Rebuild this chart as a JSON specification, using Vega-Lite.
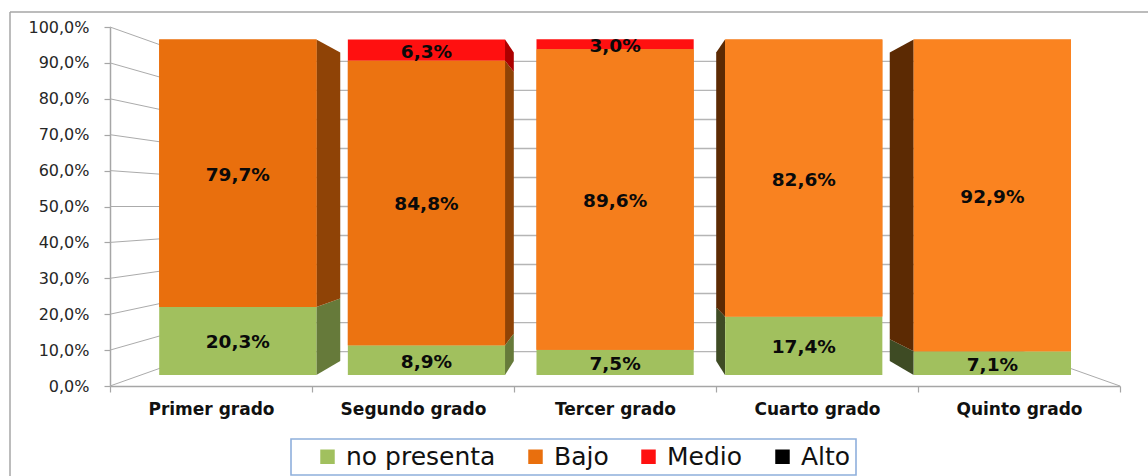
{
"$schema":"https://vega.github.io/schema/vega-lite/v6.json",
"width":1148,"height":476,"padding":0,"autosize":{"type":"none"},"background":"#ffffff",
"config":{"view":{"stroke":null},"font":"DejaVu Sans","legend":{"strokeWidth":1.6}},
"datasets":{
 "niveles":[
  {"grado":"Primer grado","nivel":"no presenta","valor":20.3},
  {"grado":"Primer grado","nivel":"Bajo","valor":79.7},
  {"grado":"Segundo grado","nivel":"no presenta","valor":8.9},
  {"grado":"Segundo grado","nivel":"Bajo","valor":84.8},
  {"grado":"Segundo grado","nivel":"Medio","valor":6.3},
  {"grado":"Tercer grado","nivel":"no presenta","valor":7.5},
  {"grado":"Tercer grado","nivel":"Bajo","valor":89.6},
  {"grado":"Tercer grado","nivel":"Medio","valor":3.0},
  {"grado":"Cuarto grado","nivel":"no presenta","valor":17.4},
  {"grado":"Cuarto grado","nivel":"Bajo","valor":82.6},
  {"grado":"Quinto grado","nivel":"no presenta","valor":7.1},
  {"grado":"Quinto grado","nivel":"Bajo","valor":92.9}
 ],
 "marcas":[{"t":0},{"t":10},{"t":20},{"t":30},{"t":40},{"t":50},{"t":60},{"t":70},{"t":80},{"t":90},{"t":100}]
},
"resolve":{"scale":{"x":"independent","y":"independent","color":"independent","opacity":"independent"},"axis":{"x":"independent","y":"independent"}},
"layer":[
 {
  "data":{"values":[{"v":0}]},
  "mark":{"type":"point","opacity":0},
  "encoding":{
   "x":{"field":"v","type":"quantitative","scale":{"domain":[0,1],"range":[9.5,1148]},"axis":{"orient":"top","offset":-11.5,"title":null,"ticks":false,"labels":false,"grid":false,"domainColor":"#A6A6A6","domainWidth":1.5}},
   "y":{"field":"v","type":"quantitative","scale":{"domain":[0,1],"range":[476,11.5]},"axis":{"orient":"left","offset":-9.5,"title":null,"ticks":false,"labels":false,"grid":false,"domainColor":"#A6A6A6","domainWidth":1.5}}
  }
 },
 {
  "data":{"name":"marcas"},
  "transform":[{"calculate":"0","as":"a"},{"calculate":"1","as":"b"},{"fold":["a","b"],"as":["k","d"]},
   {"calculate":"-505*(1-0.192*datum.d)","as":"px"},{"calculate":"50+(datum.t-50)*(1-0.192*datum.d)","as":"py"}],
  "mark":{"type":"line","color":"#ABABAB","strokeWidth":1},
  "encoding":{
   "x":{"field":"px","type":"quantitative","scale":{"domain":[-505,505],"range":[110,1120]},"axis":null},
   "y":{"field":"py","type":"quantitative","scale":{"domain":[0,100],"range":[386,27]},"axis":null},
   "detail":{"field":"t"}
  }
 },
 {
  "data":{"name":"marcas"},
  "transform":[{"filter":"datum.t==0"},{"calculate":"0","as":"a"},{"calculate":"1","as":"b"},{"fold":["a","b"],"as":["k","d"]},
   {"calculate":"505*(1-0.192*datum.d)","as":"px"},{"calculate":"50+(datum.t-50)*(1-0.192*datum.d)","as":"py"}],
  "mark":{"type":"line","color":"#ABABAB","strokeWidth":1},
  "encoding":{
   "x":{"field":"px","type":"quantitative","scale":{"domain":[-505,505],"range":[110,1120]},"axis":null},
   "y":{"field":"py","type":"quantitative","scale":{"domain":[0,100],"range":[386,27]},"axis":null}
  }
 },
 {
  "data":{"name":"marcas"},
  "transform":[{"calculate":"50+(datum.t-50)*0.808","as":"py"},{"calculate":"-408","as":"x1"},{"calculate":"408","as":"x2"}],
  "mark":{"type":"rule","color":"#B5B5B5","strokeWidth":1.3},
  "encoding":{
   "x":{"field":"x1","type":"quantitative","scale":{"domain":[-505,505],"range":[110,1120]},"axis":null},
   "x2":{"field":"x2"},
   "y":{"field":"py","type":"quantitative","scale":{"domain":[0,100],"range":[386,27]},"axis":null}
  }
 },
 {
  "data":{"name":"marcas"},
  "mark":{"type":"point","opacity":0},
  "encoding":{
   "y":{"field":"t","type":"quantitative","scale":{"domain":[0,100],"range":[386,27]},
    "axis":{"orient":"left","offset":-110,"title":null,"grid":false,"values":[0,10,20,30,40,50,60,70,80,90,100],
     "labelExpr":"replace(format(datum.value,'.1f'),'.',',')+'%'","labelFont":"DejaVu Sans","labelFontSize":16,"labelColor":"#262626","labelPadding":15,
     "tickColor":"#A6A6A6","tickSize":6,"tickWidth":1.2,"domainColor":"#A6A6A6","domainWidth":1.5}}
  }
 },
 {
  "data":{"name":"niveles"},
  "mark":{"type":"point","opacity":0},
  "encoding":{
   "x":{"field":"grado","type":"nominal","sort":null,"scale":{"type":"band","range":[110,1120],"paddingInner":0,"paddingOuter":0},
    "axis":{"orient":"bottom","offset":-90,"title":null,"grid":false,"labelAngle":0,"tickBand":"extent",
     "labelFont":"DejaVu Sans","labelFontWeight":"bold","labelFontSize":17,"labelColor":"#111111","labelPadding":9,"labelBaseline":"top",
     "tickColor":"#A6A6A6","tickSize":6,"tickWidth":1.2,"domainColor":"#A6A6A6","domainWidth":1.5}}
  }
 },
 {
  "data":{"name":"niveles"},
  "transform":[
   {"calculate":"indexof(['no presenta','Bajo','Medio','Alto'],datum.nivel)","as":"orden"},
   {"stack":"valor","groupby":["grado"],"sort":[{"field":"orden","order":"ascending"}],"as":["v0","v1"]},
   {"calculate":"indexof(['Primer grado','Segundo grado','Tercer grado','Cuarto grado','Quinto grado'],datum.grado)-2","as":"idx"},
   {"filter":"datum.idx!=0"},
   {"calculate":"0","as":"a"},{"calculate":"1","as":"b"},{"fold":["a","b"],"as":["k","d"]},
   {"calculate":"(datum.idx-(datum.idx>0?1:-1)*0.4169)*(1-0.08*datum.d)","as":"px"},
   {"calculate":"51.86+(datum.v0-51.86)*(1-0.08*datum.d)","as":"py0"},
   {"calculate":"51.86+(datum.v1-51.86)*(1-0.08*datum.d)","as":"py1"},
   {"calculate":"(datum.idx>0?'izq ':'der ')+datum.nivel","as":"tono"}
  ],
  "mark":{"type":"area","orient":"vertical","interpolate":"linear"},
  "encoding":{
   "x":{"field":"px","type":"quantitative","scale":{"domain":[-2.677,2.677],"range":[110,1120]},"axis":null},
   "y":{"field":"py0","type":"quantitative","stack":null,"scale":{"domain":[0,100],"range":[375,39.5]},"axis":null},
   "y2":{"field":"py1"},
   "detail":{"field":"grado"},
   "color":{"field":"tono","type":"nominal","legend":null,
    "scale":{"domain":["der no presenta","der Bajo","der Medio","izq no presenta","izq Bajo"],"range":["#667A3A","#8F4306","#AC0000","#3E4B24","#5C2A03"]}}
  }
 },
 {
  "data":{"name":"niveles"},
  "transform":[
   {"calculate":"indexof(['no presenta','Bajo','Medio','Alto'],datum.nivel)","as":"orden"},
   {"stack":"valor","groupby":["grado"],"sort":[{"field":"orden","order":"ascending"}],"as":["v0","v1"]}
  ],
  "mark":{"type":"bar"},
  "encoding":{
   "x":{"field":"grado","type":"nominal","sort":null,"scale":{"type":"band","range":[159.2,1071],"paddingInner":0.1666,"paddingOuter":0},"axis":null},
   "y":{"field":"v0","type":"quantitative","stack":null,"scale":{"domain":[0,100],"range":[375,39.5]},"axis":null},
   "y2":{"field":"v1"},
   "color":{"field":"nivel","type":"nominal",
    "scale":{"domain":["no presenta","Bajo","Medio","Alto"],"range":["#A1C05E","#E96F0D","#FF1010","#000000"]},
    "legend":{"orient":"none","legendX":291,"legendY":439,"direction":"horizontal","columns":4,"title":" ","titleOrient":"left","titleFontSize":6,"titlePadding":19,
      "symbolType":"square","symbolSize":210,"symbolStrokeWidth":0,"labelFont":"DejaVu Sans","labelFontSize":25,"labelColor":"#111111","labelOffset":6,"columnPadding":27,"padding":5,
      "strokeColor":"#8FB0DC","fillColor":"#ffffff","labelLimit":300}}
  }
 },
 {
  "data":{"name":"niveles"},
  "transform":[
   {"calculate":"indexof(['no presenta','Bajo','Medio','Alto'],datum.nivel)","as":"orden"},
   {"stack":"valor","groupby":["grado"],"sort":[{"field":"orden","order":"ascending"}],"as":["v0","v1"]},
   {"filter":"datum.nivel=='Bajo'"}
  ],
  "mark":{"type":"bar"},
  "encoding":{
   "x":{"field":"grado","type":"nominal","sort":null,"scale":{"type":"band","range":[159.2,1071],"paddingInner":0.1666,"paddingOuter":0},"axis":null},
   "y":{"field":"v0","type":"quantitative","stack":null,"scale":{"domain":[0,100],"range":[375,39.5]},"axis":null},
   "y2":{"field":"v1"},
   "color":{"field":"grado","type":"nominal","sort":null,"legend":null,"scale":{"domain":["Primer grado","Segundo grado","Tercer grado","Cuarto grado","Quinto grado"],"range":["#E96F0D","#EC7311","#F57E1C","#F98220","#FA8320"]}}
  }
 },
 {
  "data":{"name":"niveles"},
  "transform":[
   {"calculate":"indexof(['no presenta','Bajo','Medio','Alto'],datum.nivel)","as":"orden"},
   {"stack":"valor","groupby":["grado"],"sort":[{"field":"orden","order":"ascending"}],"as":["v0","v1"]},
   {"calculate":"(datum.v0+datum.v1)/2","as":"vm"},
   {"calculate":"replace(format(datum.valor,'.1f'),'.',',')+'%'","as":"etiqueta"}
  ],
  "mark":{"type":"text","font":"DejaVu Sans","fontWeight":"bold","fontSize":18.5,"color":"#0A0A0A","baseline":"middle","align":"center","dy":1.5},
  "encoding":{
   "x":{"field":"grado","type":"nominal","sort":null,"scale":{"type":"band","range":[159.2,1071],"paddingInner":0.1666,"paddingOuter":0},"axis":null},
   "y":{"field":"vm","type":"quantitative","stack":null,"scale":{"domain":[0,100],"range":[375,39.5]},"axis":null},
   "text":{"field":"etiqueta"}
  }
 }
]
}
